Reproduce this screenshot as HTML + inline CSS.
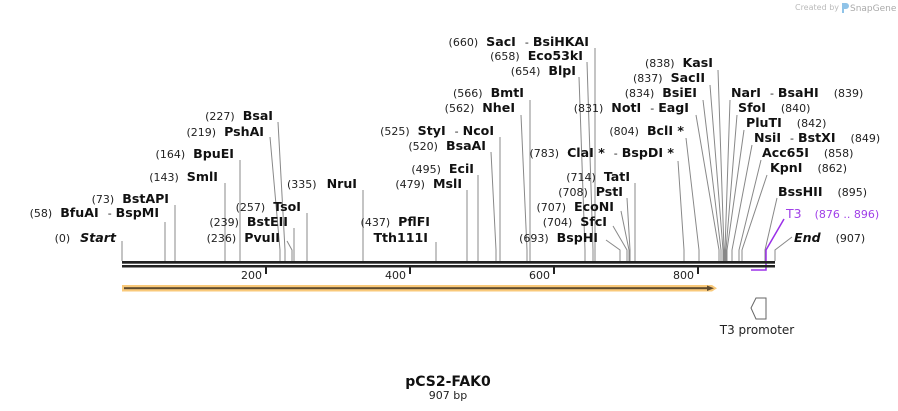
<!DOCTYPE html>
<html><head><meta charset="utf-8"><style>
html,body{margin:0;padding:0;background:#fff;}
svg{display:block;font-family:"DejaVu Sans","Liberation Sans",sans-serif;}
.n{font-size:11px;fill:#222;}
.b{font-size:12.6px;font-weight:bold;fill:#111;}
.l{stroke:#888;stroke-width:1;fill:none;}
</style></head><body>
<svg width="898" height="411" viewBox="0 0 898 411" xmlns="http://www.w3.org/2000/svg">
<text x="839" y="10" font-size="8" fill="#bbb" text-anchor="end">Created by</text>
<path d="M842 3 h4 a3 3 0 0 1 0 6 h-2 v4 h-2z" fill="#8fc3e8"/>
<text x="850" y="11" font-size="9" fill="#aaa">SnapGene</text>

<g class="l">
<path d="M122 241V261"/>
<path d="M165 222V261"/>
<path d="M175 205V261"/>
<path d="M225 183V261"/>
<path d="M240 160V261"/>
<path d="M270 137L280 250V261"/>
<path d="M278 122L285 250V261"/>
<path d="M307 213V261"/>
<path d="M294 228V261"/>
<path d="M287 241L292 250V261"/>
<path d="M363 190V261"/>
<path d="M436 242V261"/>
<path d="M467 190V261"/>
<path d="M478 175V261"/>
<path d="M491 152L496 250V261"/>
<path d="M500 137V261"/>
<path d="M521 115L527 250V261"/>
<path d="M530 100V261"/>
<path d="M579 77L585 250V261"/>
<path d="M587 62L593 250V261"/>
<path d="M595 48V261"/>
<path d="M678 161L684 250V261"/>
<path d="M686 138L699 250V261"/>
<path d="M696 115L719 250V261"/>
<path d="M703 100L721 250V261"/>
<path d="M710 85L723 250V261"/>
<path d="M718 70L724 250V261"/>
<path d="M635 183V261"/>
<path d="M627 198L630 250V261"/>
<path d="M621 211L629 250V261"/>
<path d="M613 226L627 250V261"/>
<path d="M606 240L620 250V261"/>
<path d="M730 100L725 250V261"/>
<path d="M737 115L726 250V261"/>
<path d="M744 130L727 250V261"/>
<path d="M752 145L732 250V261"/>
<path d="M761 160L739 250V261"/>
<path d="M767 175L742 250V261"/>
<path d="M777 198L765 250V261"/>
<path d="M792 237L775 250V261"/>
</g>
<path d="M784 219L766 250V270H751" stroke="#9b30e8" stroke-width="1.5" fill="none"/>

<g text-anchor="end">
<text x="116" y="242"><tspan class="n">(0)</tspan><tspan class="b" dx="10" font-style="italic">Start</tspan></text>
<text x="159" y="217"><tspan class="n">(58)</tspan><tspan class="b" dx="8">BfuAI</tspan><tspan class="n" dx="9">-</tspan><tspan class="b" dx="4">BspMI</tspan></text>
<text x="169" y="203"><tspan class="n">(73)</tspan><tspan class="b" dx="8">BstAPI</tspan></text>
<text x="218" y="181"><tspan class="n">(143)</tspan><tspan class="b" dx="8">SmlI</tspan></text>
<text x="234" y="158"><tspan class="n">(164)</tspan><tspan class="b" dx="8">BpuEI</tspan></text>
<text x="264" y="136"><tspan class="n">(219)</tspan><tspan class="b" dx="8">PshAI</tspan></text>
<text x="273" y="120"><tspan class="n">(227)</tspan><tspan class="b" dx="8">BsaI</tspan></text>
<text x="301" y="211"><tspan class="n">(257)</tspan><tspan class="b" dx="8">TsoI</tspan></text>
<text x="288" y="226"><tspan class="n">(239)</tspan><tspan class="b" dx="8">BstEII</tspan></text>
<text x="280" y="242"><tspan class="n">(236)</tspan><tspan class="b" dx="8">PvuII</tspan></text>
<text x="357" y="188"><tspan class="n">(335)</tspan><tspan class="b" dx="10">NruI</tspan></text>
<text x="430" y="226"><tspan class="n">(437)</tspan><tspan class="b" dx="8">PflFI</tspan></text>
<text x="428" y="242"><tspan class="b">Tth111I</tspan></text>
<text x="462" y="188"><tspan class="n">(479)</tspan><tspan class="b" dx="8">MslI</tspan></text>
<text x="474" y="173"><tspan class="n">(495)</tspan><tspan class="b" dx="8">EciI</tspan></text>
<text x="486" y="150"><tspan class="n">(520)</tspan><tspan class="b" dx="8">BsaAI</tspan></text>
<text x="494" y="135"><tspan class="n">(525)</tspan><tspan class="b" dx="8">StyI</tspan><tspan class="n" dx="9">-</tspan><tspan class="b" dx="4">NcoI</tspan></text>
<text x="515" y="112"><tspan class="n">(562)</tspan><tspan class="b" dx="8">NheI</tspan></text>
<text x="524" y="97"><tspan class="n">(566)</tspan><tspan class="b" dx="8">BmtI</tspan></text>
<text x="576" y="75"><tspan class="n">(654)</tspan><tspan class="b" dx="8">BlpI</tspan></text>
<text x="583" y="60"><tspan class="n">(658)</tspan><tspan class="b" dx="8">Eco53kI</tspan></text>
<text x="589" y="46"><tspan class="n">(660)</tspan><tspan class="b" dx="8">SacI</tspan><tspan class="n" dx="9">-</tspan><tspan class="b" dx="4">BsiHKAI</tspan></text>
<text x="674" y="157"><tspan class="n">(783)</tspan><tspan class="b" dx="8">ClaI *</tspan><tspan class="n" dx="9">-</tspan><tspan class="b" dx="4">BspDI *</tspan></text>
<text x="684" y="135"><tspan class="n">(804)</tspan><tspan class="b" dx="8">BclI *</tspan></text>
<text x="689" y="112"><tspan class="n">(831)</tspan><tspan class="b" dx="8">NotI</tspan><tspan class="n" dx="9">-</tspan><tspan class="b" dx="4">EagI</tspan></text>
<text x="697" y="97"><tspan class="n">(834)</tspan><tspan class="b" dx="8">BsiEI</tspan></text>
<text x="705" y="82"><tspan class="n">(837)</tspan><tspan class="b" dx="8">SacII</tspan></text>
<text x="713" y="67"><tspan class="n">(838)</tspan><tspan class="b" dx="8">KasI</tspan></text>
<text x="630" y="181"><tspan class="n">(714)</tspan><tspan class="b" dx="8">TatI</tspan></text>
<text x="623" y="196"><tspan class="n">(708)</tspan><tspan class="b" dx="8">PstI</tspan></text>
<text x="614" y="211"><tspan class="n">(707)</tspan><tspan class="b" dx="8">EcoNI</tspan></text>
<text x="607" y="226"><tspan class="n">(704)</tspan><tspan class="b" dx="8">SfcI</tspan></text>
<text x="598" y="242"><tspan class="n">(693)</tspan><tspan class="b" dx="8">BspHI</tspan></text>
</g>

<text x="731" y="97"><tspan class="b">NarI</tspan><tspan class="n" dx="9">-</tspan><tspan class="b" dx="4">BsaHI</tspan><tspan class="n" dx="15">(839)</tspan></text>
<text x="738" y="112"><tspan class="b">SfoI</tspan><tspan class="n" dx="15">(840)</tspan></text>
<text x="746" y="127"><tspan class="b">PluTI</tspan><tspan class="n" dx="15">(842)</tspan></text>
<text x="754" y="142"><tspan class="b">NsiI</tspan><tspan class="n" dx="9">-</tspan><tspan class="b" dx="4">BstXI</tspan><tspan class="n" dx="15">(849)</tspan></text>
<text x="762" y="157"><tspan class="b">Acc65I</tspan><tspan class="n" dx="15">(858)</tspan></text>
<text x="770" y="172"><tspan class="b">KpnI</tspan><tspan class="n" dx="15">(862)</tspan></text>
<text x="778" y="196"><tspan class="b">BssHII</tspan><tspan class="n" dx="15">(895)</tspan></text>
<text x="786" y="218" font-size="12.5" fill="#a040e8">T3<tspan dx="13" font-size="11">(876 .. 896)</tspan></text>
<text x="794" y="242"><tspan class="b" font-style="italic">End</tspan><tspan class="n" dx="15">(907)</tspan></text>

<rect x="122" y="261" width="653" height="2.7" fill="#222"/>
<rect x="122" y="265" width="653" height="2.5" fill="#222"/>
<g fill="#222">
<rect x="265" y="266" width="2" height="8"/>
<rect x="409" y="266" width="2" height="8"/>
<rect x="553" y="266" width="2" height="8"/>
<rect x="697" y="266" width="2" height="8"/>
</g>
<g class="n" text-anchor="end">
<text x="262" y="279">200</text>
<text x="406" y="279">400</text>
<text x="550" y="279">600</text>
<text x="694" y="279">800</text>
</g>

<path d="M122 285H712L717 288.2L712 291.5H122Z" fill="#f9c97a"/>
<rect x="124" y="287.2" width="584" height="2" fill="#5e4a2e"/>
<path d="M707 285.5L714 288.2L707 291Z" fill="#5e4a2e"/>

<path d="M766 298H756L751 308L756 319H766Z" fill="#fff" stroke="#666" stroke-width="1"/>
<text x="757" y="334" font-size="12" fill="#222" text-anchor="middle">T3 promoter</text>

<text x="448" y="386" font-size="14" font-weight="bold" fill="#111" text-anchor="middle">pCS2-FAK0</text>
<text x="448" y="399" font-size="11" fill="#222" text-anchor="middle">907 bp</text>
</svg>
</body></html>
